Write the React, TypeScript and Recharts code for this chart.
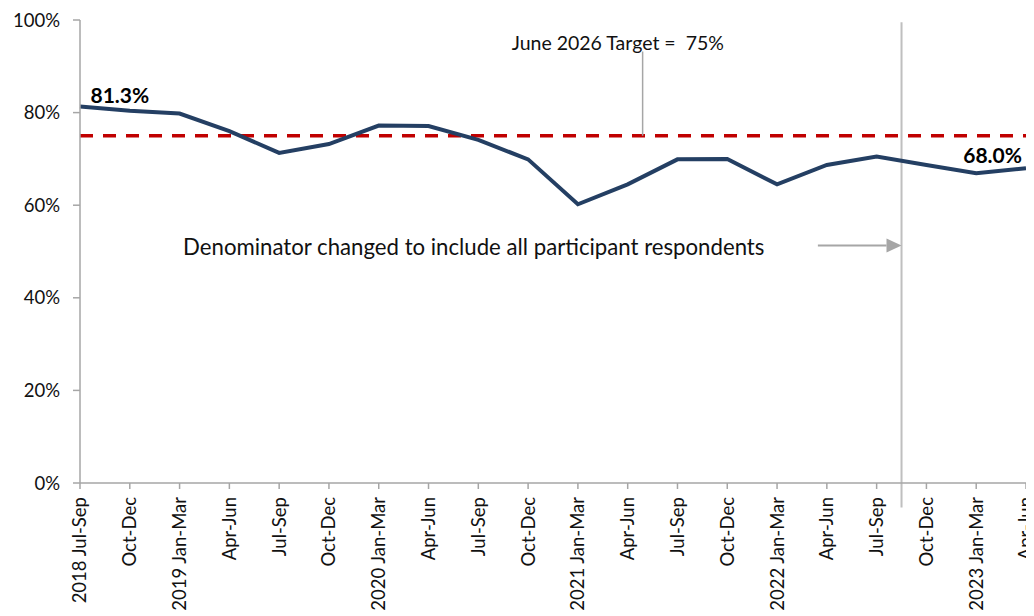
import React from "react";
import {
  LineChart,
  Line,
  XAxis,
  YAxis,
  ReferenceLine,
  ReferenceDot,
  LabelList,
} from "recharts";

const periods = [
  "2018 Jul-Sep", "Oct-Dec", "2019 Jan-Mar", "Apr-Jun", "Jul-Sep", "Oct-Dec",
  "2020 Jan-Mar", "Apr-Jun", "Jul-Sep", "Oct-Dec", "2021 Jan-Mar", "Apr-Jun",
  "Jul-Sep", "Oct-Dec", "2022 Jan-Mar", "Apr-Jun", "Jul-Sep", "Oct-Dec",
  "2023 Jan-Mar", "Apr-Jun",
];
const values = [
  81.3, 80.4, 79.8, 76.0, 71.3, 73.2, 77.2, 77.1, 74.1, 69.9, 60.2, 64.5,
  69.9, 70.0, 64.5, 68.7, 70.5, 68.7, 66.9, 68.0,
];
const yTicks = [0, 20, 40, 60, 80, 100];
const TARGET = 75;
const targetText = "June 2026 Target =  75%";
const noteText = "Denominator changed to include all participant respondents";
// annotation anchors on a numeric index axis (0..19) and the value axis
const changeIndex = 16.5;
const targetPointer = { x: 11.3, yTop: 93.2 };
const targetLabelAnchor = { x: 8.67, y: 93.5 };
const noteAnchor = { x: 2.07, y: 49.3 };
const arrowFrom = { x: 14.82, y: 51.3 };
const changeLineSpan = [-5.3, 99.5];

const data = periods.map((p, i) => ({ idx: i, period: p, value: values[i] }));

const FONT = "Lato, 'Open Sans', sans-serif";
const GRAY = "#A6A6A6";
const NAVY = "#243F63";

const XTick = (props: any) => {
  const { x, y, payload } = props;
  return (
    <text
      x={x}
      y={y + 6}
      transform={`rotate(-90, ${x}, ${y + 6})`}
      textAnchor="end"
      dy="0.35em"
      fontSize={18.5}
      fontFamily={FONT}
      fill="#111"
    >
      {payload.value}
    </text>
  );
};

const EndLabel = (props: any) => {
  const { x, y, value, index } = props;
  if (index === 0) {
    return (
      <text x={x + 10.5} y={y - 4} fontSize={21} fontWeight={700} fontFamily={FONT} fill="#000">
        {value.toFixed(1)}%
      </text>
    );
  }
  if (index === values.length - 1) {
    return (
      <text x={x - 4} y={y - 5} textAnchor="end" fontSize={21} fontWeight={700} fontFamily={FONT} fill="#000">
        {value.toFixed(1)}%
      </text>
    );
  }
  return null;
};

const ArrowShape = (props: any) => {
  const { x1, y1, x2, y2 } = props;
  const head = 15;
  return (
    <g>
      <line x1={x1} y1={y1} x2={x2 - head} y2={y2} stroke={GRAY} strokeWidth={2} />
      <polygon points={`${x2},${y2} ${x2 - head},${y2 - 7} ${x2 - head},${y2 + 7}`} fill={GRAY} />
    </g>
  );
};

const textLabel = (txt: string, size: number) => (p: any) => {
  const vb = p.viewBox || {};
  const cx = (vb.x ?? 0) + (vb.width ?? 0) / 2;
  const cy = (vb.y ?? 0) + (vb.height ?? 0) / 2;
  return (
    <text x={cx} y={cy} fontSize={size} fontFamily={FONT} fill="#111" style={{ whiteSpace: "pre" }}>
      {txt}
    </text>
  );
};

export default function App() {
  return (
    <div style={{ width: 1026, height: 608 }}>
      <LineChart
        width={1026}
        height={608}
        data={data}
        margin={{ top: 12, right: 8, bottom: 0, left: 0 }}
      >
        <XAxis
          xAxisId="cat"
          dataKey="period"
          interval={0}
          height={133}
          tick={<XTick />}
          tickSize={6}
          tickMargin={2}
          axisLine={{ stroke: GRAY, strokeWidth: 1.5 }}
          tickLine={{ stroke: GRAY, strokeWidth: 1.5 }}
        />
        <XAxis xAxisId="num" dataKey="idx" type="number" domain={[0, 19]} hide />
        <YAxis
          domain={[0, 100]}
          ticks={yTicks}
          width={72}
          tickFormatter={(v: number) => `${v}%`}
          tick={{ fontSize: 18.5, fontFamily: FONT, fill: "#111" }}
          tickSize={7}
          tickMargin={13}
          axisLine={{ stroke: GRAY, strokeWidth: 1.5 }}
          tickLine={{ stroke: GRAY, strokeWidth: 1.5 }}
        />
        <ReferenceLine
          xAxisId="num"
          y={TARGET}
          stroke="#C00000"
          strokeWidth={3.3}
          strokeDasharray="13 10"
        />
        <ReferenceLine
          xAxisId="num"
          segment={[
            { x: targetPointer.x, y: TARGET },
            { x: targetPointer.x, y: targetPointer.yTop },
          ]}
          stroke={GRAY}
          strokeWidth={1.5}
        />
        <ReferenceLine
          xAxisId="num"
          ifOverflow="visible"
          segment={[
            { x: changeIndex, y: changeLineSpan[0] },
            { x: changeIndex, y: changeLineSpan[1] },
          ]}
          stroke="#BFBFBF"
          strokeWidth={2}
        />
        <ReferenceLine
          xAxisId="num"
          segment={[
            { x: arrowFrom.x, y: arrowFrom.y },
            { x: changeIndex, y: arrowFrom.y },
          ]}
          shape={<ArrowShape />}
        />
        <ReferenceDot
          xAxisId="num"
          x={targetLabelAnchor.x}
          y={targetLabelAnchor.y}
          r={1}
          fillOpacity={0}
          strokeOpacity={0}
          label={textLabel(targetText, 19.5)}
        />
        <ReferenceDot
          xAxisId="num"
          x={noteAnchor.x}
          y={noteAnchor.y}
          r={1}
          fillOpacity={0}
          strokeOpacity={0}
          label={textLabel(noteText, 22.2)}
        />
        <Line
          xAxisId="cat"
          dataKey="value"
          stroke={NAVY}
          strokeWidth={4}
          dot={false}
          isAnimationActive={false}
        >
          <LabelList dataKey="value" content={<EndLabel />} />
        </Line>
      </LineChart>
    </div>
  );
}
